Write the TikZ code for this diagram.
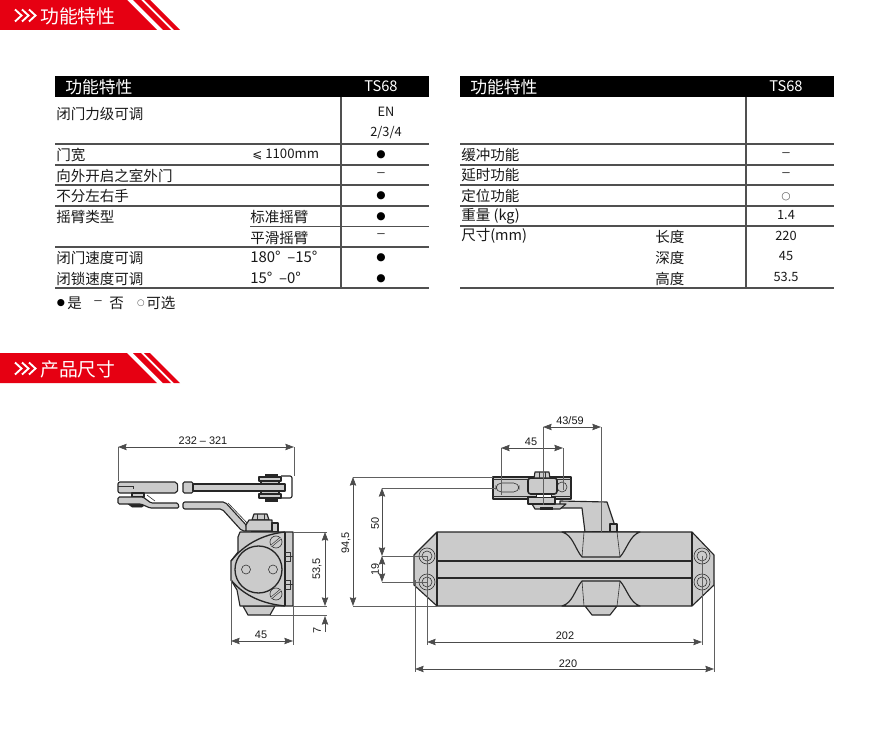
\documentclass[tikz,border=0pt]{standalone}
\usepackage{fontspec}
\setmainfont{Noto Sans CJK SC}
\newfontfamily\dimfont{Liberation Sans}
\newfontfamily\symfont{DejaVu Sans}
\usetikzlibrary{arrows.meta}
\definecolor{bannerred}{HTML}{E60012}
\definecolor{partgray}{HTML}{CBCBCB}
\definecolor{dimgray}{HTML}{606060}
\definecolor{rulegray}{HTML}{505050}
\tikzset{
    % Narrow solid tip for the measuring lines
    dimtip/.tip={Stealth[length=6.5pt,width=4.8pt,inset=0.8pt]},
%
    % Table furniture
    table rule/.style={draw=rulegray, line width=1pt},
    cell/.style={anchor=west, inner sep=0, text=black!90,
        font=\fontsize{10.9}{12}\selectfont},
    value/.style={anchor=center, inner sep=0, text=black!90,
        font=\fontsize{9.6}{12}\selectfont},
    bar sym/.style={anchor=center, inner sep=0, text=black!80,
        font=\dimfont\fontsize{10}{12}\selectfont},
    mark sym/.style={anchor=center, inner sep=0, text=black,
        font=\symfont\fontsize{8}{10}\selectfont},
    head/.style={anchor=west, inner sep=0, text=white,
        font=\fontsize{12.6}{14}\selectfont},
%
    % Parts of the closer, with dark outline
    part/.style={draw=black!85, fill=partgray, line width=0.85pt, line join=round},
    thin part/.style={draw=black!80, line width=0.45pt},
    dark part/.style={draw=black!85, fill=black!85},
%
    % Measuring lines
    ext line/.style={draw=dimgray, line width=0.5pt},
    dim line/.style={dimtip-dimtip, draw=black!70, line width=0.5pt},
    dim text/.style={inner sep=0, text=black!90,
        font=\dimfont\fontsize{8.2}{9}\selectfont}}
\begin{document}
\begin{tikzpicture}[x=0.75pt, y=-0.75pt,
    banner text/.style={anchor=west, inner sep=0, text=white,
        font=\fontsize{14.1}{15}\selectfont}]

\useasboundingbox [fill=white] (0,0) rectangle (890,742);

% the two red banners
\foreach \ytop/\title in {0/功能特性, 353/产品尺寸} {
    \begin{scope}[yshift=-0.75pt*\ytop]
    \fill [bannerred] (0,0) -- (127,0) -- (157,30) -- (0,30) -- cycle;
    \fill [bannerred] (133,0) -- (141,0) -- (171,30) -- (163,30) -- cycle;
    \fill [bannerred] (144,0) -- (150,0) -- (180,30) -- (174,30) -- cycle;
    \foreach \xoff in {15,22,29}
        \draw [white, line width=1.4pt, miter limit=4]
            (\xoff,9.5) -- ++(6.5,6) -- ++(-6.5,6);
    \node [banner text] (title\ytop) at (40,16) {\title};
    \end{scope}
}

% left table
\fill [black] (55,76) rectangle (429,97);
\node [head] (headL) at (65,87.5) {功能特性};
\node [value, text=white, font=\fontsize{11}{12}\selectfont] (tsL) at (381,86) {TS68};
\foreach \yrule in {144,165,185,206,247,288}
    \draw [table rule] (55,\yrule) -- (429,\yrule);
\draw [table rule] (250,226.5) -- (429,226.5);
\draw [table rule] (341,97) -- (341,288);

\foreach \yrow/\txt in {114/闭门力级可调, 155/门宽, 176/向外开启之室外门, 196/不分左右手,
    217/摇臂类型, 258/闭门速度可调, 279/闭锁速度可调}
    \node [cell] (rowL\yrow) at (56,\yrow) {\txt};
\foreach \yrow/\txt in {217/标准摇臂, 238/平滑摇臂}
    \node [cell] (subL\yrow) at (250,\yrow) {\txt};
\foreach \yrow/\txt in {257/180°\ \ –15°, 278/15°\ \ –0°}
    \node [cell, font=\fontsize{11.2}{12}\selectfont] (subL\yrow) at (250,\yrow) {\txt};
\node [cell, font=\fontsize{9.9}{12}\selectfont] (widthL) at (252,154)
    {{\symfont\fontsize{9}{11}\selectfont ⩽} 1100mm};

\node [value] (valEN) at (386,112) {EN};
\node [value] (val234) at (386,133) {2/3/4};
\foreach \yrow in {155,196,217,258,279}
    \node [mark sym] (dotL\yrow) at (381,\yrow) {●};
\foreach \yrow in {175,236}
    \node [bar sym] (dashL\yrow) at (381,\yrow) {–};

\node [mark sym, font=\symfont\fontsize{7}{9}\selectfont] (keyA) at (61,303) {●};
\node [cell] (keyB) at (67,303) {是};
\node [bar sym] (keyC) at (98,303) {–};
\node [cell] (keyD) at (109,303) {否};
\node [mark sym, text=black!65, font=\symfont\fontsize{6.5}{9}\selectfont] (keyE) at (141,303) {○};
\node [cell] (keyF) at (146,303) {可选};

% right table
\fill [black] (460,76) rectangle (834,97);
\node [head] (headR) at (470,87.5) {功能特性};
\node [value, text=white, font=\fontsize{11}{12}\selectfont] (tsR) at (786,86) {TS68};
\foreach \yrule in {144,165,185,206,226,288}
    \draw [table rule] (460,\yrule) -- (834,\yrule);
\draw [table rule] (746,97) -- (746,288);

\foreach \yrow/\txt in {155/缓冲功能, 175/延时功能, 196/定位功能, 216/重量 (kg), 236/尺寸(mm)}
    \node [cell] (rowR\yrow) at (461,\yrow) {\txt};
\foreach \yrow/\txt in {237/长度, 258/深度, 279/高度}
    \node [cell] (subR\yrow) at (655,\yrow) {\txt};
\foreach \yrow/\txt in {215/1.4, 236/220, 256/45, 277/53.5}
    \node [value] (valR\yrow) at (786,\yrow) {\txt};
\foreach \yrow in {155,175}
    \node [bar sym] (dashR\yrow) at (786,\yrow) {–};
\node [mark sym, text=black!65] (ringR) at (786,197) {○};

% end view, arm
\path [part, rounded corners=1.5pt] (118,482) -- (177,482) -- (178,488) -- (177,493)
    -- (118,493) -- cycle;
\draw [thin part] (118,486) -- (133,486) -- (133,489);
\path [part, rounded corners=1pt] (183,482) rectangle (193,493);
\path [part] (132,493) rectangle (144,497);
\path [dark part] (128,504) -- (146,504) -- (142,507) -- (132,507) -- cycle;
\path [part, rounded corners=1pt] (118,497) -- (143,497) -- (151,503) -- (178,503)
    -- (179,508) -- (150,508) -- (141,504) -- (118,504) -- cycle;
\draw [thin part] (147,495) -- (155,501);
\path [part, rounded corners=1.5pt] (183,502) -- (225,502) -- (247,526) -- (247,531)
    -- (242,531) -- (222,509) -- (183,509) -- cycle;
\draw [thin part] (228,503) -- (249,525);
% end view, roller clamp
\path [draw=black!85, line width=0.85pt, rounded corners=1.5pt]
    (281,476) -- (292,476) -- (292,498) -- (281,498);
\path [dark part] (265,474) rectangle (277,477);
\path [dark part] (265,498) rectangle (277,501);
\path [part] (259,477) rectangle (281,481);
\path [part] (259,494) rectangle (281,498);
\path [part] (261,481) rectangle (279,494);
\path [part] (193,484) -- (285,484) -- (285,491) -- (193,491) -- cycle;
% end view, fixing screw
\path [part] (252,520) -- (254,514) -- (267,514) -- (269,520) -- cycle;
\draw [thin part] (257,514) -- (257,520) (264,514) -- (264,520);
\path [part] (246,525) -- (249,520) -- (272,520) -- (272,531) -- (246,531) -- cycle;
\path [part] (272,523) rectangle (278,532);
\path [dark part] (251,531) rectangle (270,534);
% end view, body
\path [part] (243,606) -- (248,615) -- (270,615) -- (275,606) -- cycle;
\path [part] (240,532) -- (293,532) -- (293,606) -- (240,606) -- (237,590) -- (231,580)
    -- (231,561) -- (238,552) -- (238,537) -- cycle;
\draw [part, fill=none] (285,532) -- (285,606);
\draw [part, line width=1pt, fill=none] (231,561) .. controls (245,543) and (265,534) .. (285,532);
\draw [part, line width=1pt, fill=none] (231,580) .. controls (245,597) and (265,604) .. (285,606);
\path [part, line width=1pt] (258.5,569.5) circle [radius=23.5];
\foreach \xhole in {246,273}
    \draw [thin part] (\xhole,569.5) circle [radius=4.5];
\foreach \yscrew/\tilt in {542/-40, 594/-40} {
    \draw [thin part] (276,\yscrew) circle [radius=6];
    \draw [thin part, double=partgray, double distance=0.8pt]
        (276,\yscrew) ++(\tilt:6) -- ++(\tilt+180:12);
}
\foreach \ylug in {552,580}
    \draw [thin part] (285,\ylug) -- (290,\ylug) -- (290,\ylug+9) -- (285,\ylug+9)
        (285,\ylug+4) -- (293,\ylug+4);

% end view, measures
\coordinate (armL) at (118,447);
\coordinate (armR) at (294,447);
\draw [ext line] (armL) -- (118,481);
\draw [ext line] (armR) -- (294,476);
\draw [dim line] (armL) -- (armR);
\node [dim text] (armText) at (203,441) {232 – 321};
\coordinate (heightT) at (325,532);
\coordinate (heightB) at (325,606);
\draw [ext line] (293,532) -- (327,532);
\draw [ext line] (293,606) -- (327,606);
\draw [ext line] (270,615.5) -- (327,615.5);
\draw [dim line] (heightT) -- (heightB);
\node [dim text, rotate=90] (heightText) at (317,569) {53,5};
\coordinate (footB) at (325,632);
\coordinate (footT) at (325,616);
\draw [-dimtip, draw=black!70, line width=0.5pt] (footB) -- (footT);
\node [dim text, rotate=90] (footText) at (317,630) {7};
\coordinate (depthL) at (231,641);
\coordinate (depthR) at (293,641);
\draw [ext line] (231,565) -- (231,645);
\draw [ext line] (293,606) -- (293,645);
\draw [dim line] (depthL) -- (depthR);
\node [dim text] (depthText) at (261,635) {45};

% front view, arm and bracket
\path [part] (582,508) -- (560,508) -- (560,501) -- (607,502) -- (617,532) -- (585,532) -- cycle;
\path [part] (610,524) rectangle (617,532);
\path [part] (493,477) rectangle (571,499);
\draw [thin part] (493,479.5) -- (571,479.5) (493,496) -- (571,496);
\path [thin part, rounded corners=4pt] (496,483) rectangle (519,492);
\draw [thin part] (562,487) circle [radius=5];
\path [part] (532,504) -- (535,509) -- (560,509) -- (566,504) -- cycle;
\path [dark part] (540,507) rectangle (552,509);
\path [part] (528,497) rectangle (555,504);
\path [draw=black!85, fill=white, line width=0.4pt] (536,494) rectangle (551,497);
\path [part, line width=1.2pt, rounded corners=2pt] (528,478) rectangle (557,494);
\path [part] (534,478) -- (535,472) -- (549,472) -- (550,478) -- cycle;
\draw [thin part] (539,472) -- (539,478) (545,472) -- (545,478);
\path [dark part] (592,531) rectangle (607,534);

% front view, body
\path [part] (585,606) -- (592,615) -- (610,615) -- (617,606) -- cycle;
\path [part] (437,532) -- (692,532) -- (714,555) -- (714,585) -- (692,606) -- (437,606)
    -- (414,585) -- (414,555) -- cycle;
\draw [part, fill=none] (437,532) -- (437,606) (692,532) -- (692,606);
\draw [part, fill=none, line width=1pt] (437,561) -- (692,561);
\draw [part, fill=none, line width=1.2pt] (437,578) -- (692,578);
\path [part] (562,532) .. controls (573,535) and (575,549) .. (582,557) -- (620,557)
    .. controls (627,549) and (630,535) .. (640,532) -- cycle;
\path [part] (562,606) .. controls (573,603) and (575,589) .. (582,581) -- (620,581)
    .. controls (627,589) and (630,603) .. (640,606) -- cycle;
\draw [thin part] (584,532) -- (582,557) (617,532) -- (620,557)
    (584,606) -- (582,581) (617,606) -- (620,581);
\foreach \xbolt in {427,702}
    \foreach \ybolt in {556,582} {
        \draw [thin part] (\xbolt,\ybolt) circle [radius=8];
        \draw [thin part] (\xbolt,\ybolt) circle [radius=5];
    }

% front view, measures
\coordinate (tallT) at (353,477);
\coordinate (tallB) at (353,606);
\draw [ext line] (tallT) -- (493,477);
\draw [ext line] (tallB) -- (437,606);
\draw [dim line] (tallT) -- (tallB);
\node [dim text, rotate=90] (tallText) at (346,543) {94,5};
\coordinate (reachT) at (382,488);
\coordinate (reachB) at (382,556);
\coordinate (boltB) at (382,582);
\draw [ext line] (reachT) -- (496,488);
\draw [ext line] (reachB) -- (427,556);
\draw [ext line] (boltB) -- (427,582);
\draw [dim line] (reachT) -- (reachB);
\node [dim text, rotate=90] (reachText) at (375,523) {50};
\draw [dim line] (reachB) -- (boltB);
\node [dim text, rotate=90] (boltText) at (375,569) {19};
\coordinate (slotL) at (501,448);
\coordinate (slotR) at (563,448);
\draw [ext line] (slotL) -- (501,495);
\draw [ext line] (slotR) -- (563,490);
\draw [dim line] (slotL) -- (slotR);
\node [dim text] (slotText) at (531,442) {45};
\coordinate (pivotL) at (543,427);
\coordinate (pivotR) at (601,427);
\draw [ext line] (pivotL) -- (543,505);
\draw [ext line] (pivotR) -- (601,533);
\draw [dim line] (pivotL) -- (pivotR);
\node [dim text] (pivotText) at (570,421) {43/59};
\coordinate (boltsL) at (427,642);
\coordinate (boltsR) at (702,642);
\coordinate (caseL) at (415,669);
\coordinate (caseR) at (714,669);
\draw [ext line] (427,556) -- (427,645);
\draw [ext line] (702,556) -- (702,645);
\draw [ext line] (415,580) -- (415,672);
\draw [ext line] (714,580) -- (714,672);
\draw [dim line] (boltsL) -- (boltsR);
\node [dim text] (boltsText) at (565,636) {202};
\draw [dim line] (caseL) -- (caseR);
\node [dim text] (caseText) at (568,664) {220};

\end{tikzpicture}
\end{document}
